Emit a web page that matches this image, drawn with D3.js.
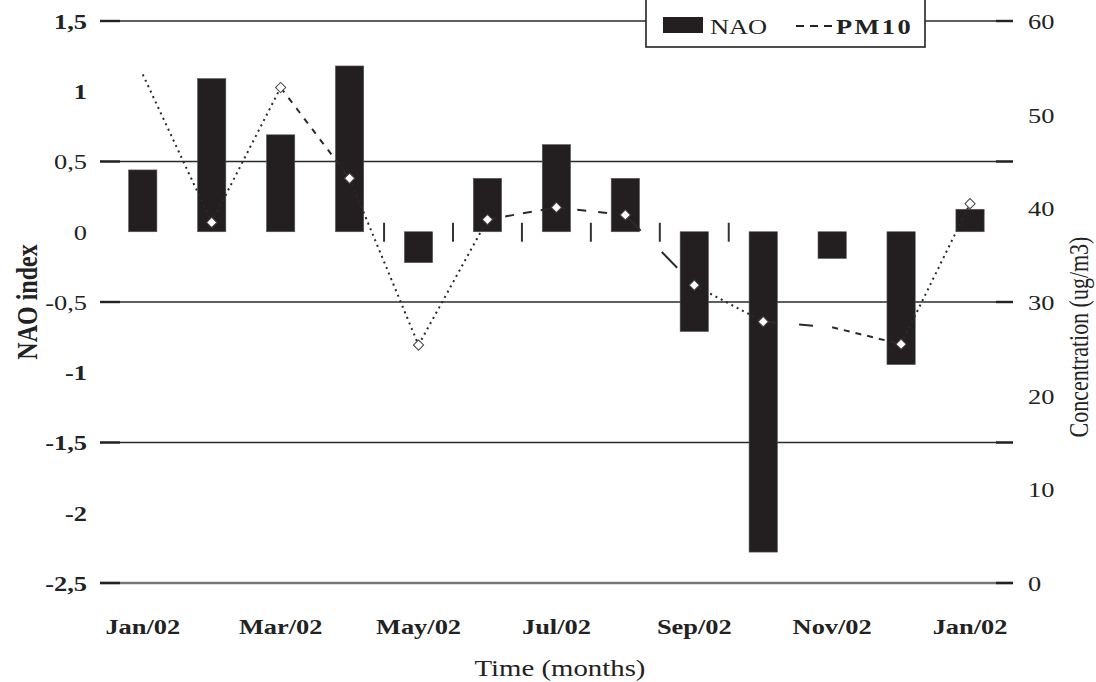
<!DOCTYPE html>
<html>
<head>
<meta charset="utf-8">
<script src="https://cdn.jsdelivr.net/npm/d3@7"></script>
<style>
  html, body { margin: 0; padding: 0; background: #fff; }
  svg { display: block; }
  text { font-family: "Liberation Serif", "DejaVu Serif", serif; fill: #222; }
</style>
</head>
<body>
<svg id="chart" width="1096" height="682"></svg>
<script>
// ---- data ----
const months = ["Jan/02","Feb/02","Mar/02","Apr/02","May/02","Jun/02","Jul/02","Aug/02","Sep/02","Oct/02","Nov/02","Dec/02","Jan/02"];
const nao = [0.44, 1.09, 0.69, 1.18, -0.22, 0.38, 0.62, 0.38, -0.71, -2.28, -0.19, -0.945, 0.16];
const pm10 = [54.3, 38.5, 52.9, 43.2, 25.4, 38.8, 40.1, 39.3, 31.8, 27.9, 27.3, 25.5, 40.5];
const pm10Marked = [false, true, true, true, true, true, true, true, true, true, false, true, true];
const xTickIdx = [0, 2, 4, 6, 8, 10, 12];
const leftTicks = [1.5, 1, 0.5, 0, -0.5, -1, -1.5, -2, -2.5];
const leftTickLabels = ["1,5", "1", "0,5", "0", "-0,5", "-1", "-1,5", "-2", "-2,5"];
const rightTicks = [0, 10, 20, 30, 40, 50, 60];
const gridVals = [1.5, 0.5, -0.5, -1.5, -2.5];
const zeroTickAfter = [3, 4, 5, 6, 7, 8];
const segDash = ["2,4", "2,4", "6,7", "2,4", "2,4", "9,9", "9,12", "22,30", "2,4", "14,22", "6,6", "2,4"];

// ---- layout ----
const svg = d3.select("#chart");
const X0 = 100, X1 = 1013, YT = 21, YB = 583;
const SX = 1.2;

const y = d3.scaleLinear().domain([-2.5, 1.5]).range([YB, YT]);
const y2 = d3.scaleLinear().domain([0, 60]).range([YB, YT]);
const x = d3.scaleBand().domain(d3.range(months.length)).range([108.3, 1004.5])
  .paddingInner(0.59).paddingOuter(0.295);
const cx = i => x(i) + x.bandwidth() / 2;

// gridlines
svg.append("g").selectAll("line").data(gridVals).join("line")
  .attr("x1", X0).attr("x2", X1)
  .attr("y1", d => y(d)).attr("y2", d => y(d))
  .attr("stroke", d => d === -2.5 ? "#777" : "#2a2a2a")
  .attr("stroke-width", d => d === -2.5 ? 2.6 : 1.6);
// darker tick ends on gridlines
svg.append("g").selectAll("line").data(gridVals.flatMap(v => [[X0, X0 + 20, v], [X1 - 17, X1, v]])).join("line")
  .attr("x1", d => d[0]).attr("x2", d => d[1])
  .attr("y1", d => y(d[2])).attr("y2", d => y(d[2]))
  .attr("stroke", "#222").attr("stroke-width", 2.4);

// zero-line category ticks
svg.append("g").selectAll("line").data(zeroTickAfter).join("line")
  .attr("x1", i => cx(i) + x.step() / 2).attr("x2", i => cx(i) + x.step() / 2)
  .attr("y1", y(0) - 9).attr("y2", y(0) + 10)
  .attr("stroke", "#333").attr("stroke-width", 2);

// bars
svg.append("g").selectAll("rect").data(nao).join("rect")
  .attr("x", (d, i) => x(i))
  .attr("width", x.bandwidth())
  .attr("y", d => y(Math.max(0, d)))
  .attr("height", d => Math.abs(y(d) - y(0)))
  .attr("fill", "#231f20")
  .attr("stroke", "#555").attr("stroke-width", 0.6);

// PM10 line (segment by segment)
const lineGen = d3.line().x(d => cx(d.i)).y(d => y2(d.v));
const segs = d3.range(pm10.length - 1).map(i => [{ i, v: pm10[i] }, { i: i + 1, v: pm10[i + 1] }]);
svg.append("g").selectAll("path").data(segs).join("path")
  .attr("d", lineGen)
  .attr("fill", "none")
  .attr("stroke", "#2a2a2a")
  .attr("stroke-width", 2)
  .attr("stroke-dasharray", (d, k) => segDash[k]);

// markers (square diamonds)
svg.append("g").selectAll("path")
  .data(pm10.map((v, i) => ({ i, v })).filter(d => pm10Marked[d.i])).join("path")
  .attr("transform", d => `translate(${cx(d.i)},${y2(d.v)}) rotate(45)`)
  .attr("d", d3.symbol(d3.symbolSquare, 52))
  .attr("fill", "#fff").attr("stroke", "#444").attr("stroke-width", 1);

// left axis
const gL = svg.append("g").attr("transform", `translate(${X0},0)`)
  .call(d3.axisLeft(y).tickValues(leftTicks).tickSize(0)
    .tickFormat((d, k) => leftTickLabels[k]));
gL.select(".domain").remove();
gL.selectAll("text")
  .attr("x", -13 / SX).attr("dy", "0.34em")
  .attr("transform", `scale(${SX},1)`)
  .style("font-size", "22px")
  .style("font-weight", d => Math.abs(d) >= 1 ? "bold" : "normal")
  .style("font-family", '"Liberation Serif", serif').attr("fill", "#222");

// right axis
const gR = svg.append("g").attr("transform", `translate(${X1},0)`)
  .call(d3.axisRight(y2).tickValues(rightTicks).tickSize(0));
gR.select(".domain").remove();
gR.selectAll("text")
  .attr("x", 15 / SX).attr("dy", "0.34em")
  .attr("transform", `scale(${SX},1)`)
  .style("font-size", "22px")
  .style("font-family", '"Liberation Serif", serif').attr("fill", "#222");

// bottom axis labels
const gB = svg.append("g").attr("transform", `translate(0,634)`)
  .call(d3.axisBottom(x).tickValues(xTickIdx).tickSize(0).tickFormat(i => months[i]));
gB.select(".domain").remove();
gB.selectAll("text")
  .attr("y", 0).attr("dy", null)
  .attr("transform", `scale(${SX},1)`)
  .style("font-size", "22px").style("font-weight", "bold")
  .style("font-family", '"Liberation Serif", serif').attr("fill", "#222");
gB.selectAll(".tick").each(function(i) {
  d3.select(this).attr("transform", `translate(${cx(i)},0)`);
});

// axis titles
svg.append("text")
  .attr("transform", `translate(560,676) scale(${SX},1)`)
  .attr("text-anchor", "middle")
  .style("font-size", "24px")
  .text("Time (months)");
svg.append("text")
  .attr("transform", `translate(37,302) rotate(-90) scale(1,${SX})`)
  .attr("text-anchor", "middle")
  .style("font-size", "24px").style("font-weight", "bold")
  .text("NAO index");
svg.append("text")
  .attr("transform", `translate(1088,337) rotate(-90) scale(1,${SX})`)
  .attr("text-anchor", "middle")
  .style("font-size", "22px")
  .text("Concentration (ug/m3)");

// legend
const lg = svg.append("g");
lg.append("rect").attr("x", 646).attr("y", -3).attr("width", 279).attr("height", 50)
  .attr("fill", "#fff").attr("stroke", "#222").attr("stroke-width", 1.6);
lg.append("rect").attr("x", 663).attr("y", 17).attr("width", 40).attr("height", 16)
  .attr("fill", "#231f20");
lg.append("text").attr("transform", `translate(710,34) scale(${SX},1)`)
  .style("font-size", "22px").text("NAO");
lg.append("line").attr("x1", 796).attr("x2", 832).attr("y1", 26).attr("y2", 26)
  .attr("stroke", "#222").attr("stroke-width", 2).attr("stroke-dasharray", "8,6");
lg.append("text").attr("transform", `translate(836,34) scale(${SX},1)`)
  .style("font-size", "22px").style("font-weight", "bold").style("letter-spacing", "2px")
  .text("PM10");
</script>
</body>
</html>
